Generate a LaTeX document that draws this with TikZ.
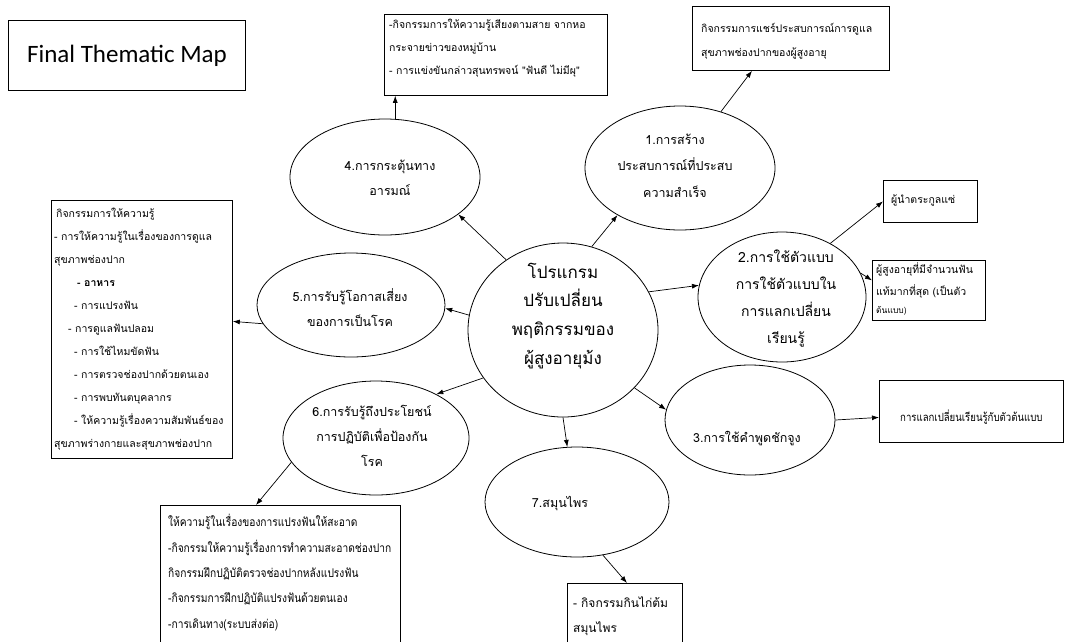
\documentclass[tikz,border=0pt]{standalone}
\usepackage{fontspec}
\setmainfont{Carlito}
\newfontfamily\thai[Script=Thai]{Loma}
\newfontfamily\thain[Script=Thai,FakeStretch=0.85]{Loma}
\usetikzlibrary{shapes.geometric,arrows.meta}
\begin{document}
\begin{tikzpicture}[x=1pt,y=-1pt,
  arr/.style={line width=0.7pt,-{Latex[length=7pt,width=5pt]}},
  oval/.style={ellipse,draw=black,line width=0.8pt,inner sep=0pt},
  box/.style={rectangle,draw=black,line width=0.8pt,inner sep=0pt,anchor=north west},
  sm/.style={inner sep=0pt,anchor=base west,font=\thai\fontsize{10.5}{12}\selectfont},
  md/.style={inner sep=0pt,anchor=base west,font=\thai\fontsize{12}{14}\selectfont},
  mdn/.style={inner sep=0pt,anchor=base west,font=\thain\fontsize{12}{14}\selectfont},
  ov/.style={inner sep=0pt,anchor=base,font=\thai\fontsize{12.5}{14}\selectfont},
  ovb/.style={inner sep=0pt,anchor=base,font=\thai\fontsize{14}{16}\selectfont},
  ctr/.style={inner sep=0pt,anchor=base,font=\thai\fontsize{17}{19}\selectfont}
]
\useasboundingbox (0,0) rectangle (1065,641);

% title
\node[box,minimum width=237pt,minimum height=70pt] (title) at (8,20) {};
\node[font=\fontsize{25}{28}\selectfont,inner sep=0pt] (titletxt) at (127,56) {Final Thematic Map};

% central programme
\node[oval,minimum width=190pt,minimum height=174pt] (c) at (563,330) {};
\foreach \t/\y [count=\i] in {โปรแกรม/278,ปรับเปลี่ยน/306,พฤติกรรมของ/335,ผู้สูงอายุม้ง/364}
  \node[ctr] (ct\i) at (563,\y) {\t};

% 1. experience of success
\node[oval,minimum width=190pt,minimum height=124pt] (e1) at (680,168) {};
\foreach \t/\y [count=\i] in {1.การสร้าง/144,ประสบการณ์ที่ประสบ/170,ความสำเร็จ/197}
  \node[ov] (e1t\i) at (675,\y) {\t};
\node[box,minimum width=197pt,minimum height=64pt] (trb) at (692,6) {};
\node[sm] (trb1) at (701,32) {กิจกรรมการแชร์ประสบการณ์การดูแล};
\node[sm] (trb2) at (701,56) {สุขภาพช่องปากของผู้สูงอายุ};

% 4. emotional arousal
\node[oval,minimum width=190pt,minimum height=116pt] (e4) at (385,177) {};
\node[ov] (e4t1) at (390,170) {4.การกระตุ้นทาง};
\node[ov] (e4t2) at (390,195) {อารมณ์};
\node[box,minimum width=223pt,minimum height=81pt] (tb) at (384,14) {};
\node[sm] (tb1) at (389,28) {-กิจกรรมการให้ความรู้เสียงตามสาย จากหอ};
\node[sm] (tb2) at (389,51) {กระจายข่าวของหมู่บ้าน};
\node[sm] (tb3) at (389,74) {- การแข่งขันกล่าวสุนทรพจน์ "ฟันดี ไม่มีผุ"};

% 5. perceived risk
\node[oval,minimum width=188pt,minimum height=104pt] (e5) at (351,305) {};
\node[ov] (e5t1) at (350,301) {5.การรับรู้โอกาสเสี่ยง};
\node[ov] (e5t2) at (350,326) {ของการเป็นโรค};
\node[box,minimum width=181pt,minimum height=258pt] (lb) at (51,200) {};
\foreach \t/\x/\y [count=\i] in {
  กิจกรรมการให้ความรู้/56/217,
  - การให้ความรู้ในเรื่องของการดูแล/54/240,
  สุขภาพช่องปาก/54/263,
  - การแปรงฟัน/74/309,
  - การดูแลฟันปลอม/68/332,
  - การใช้ไหมขัดฟัน/74/355,
  - การตรวจช่องปากด้วยตนเอง/74/378,
  - การพบทันตบุคลากร/74/401,
  - ให้ความรู้เรื่องความสัมพันธ์ของ/74/424,
  สุขภาพร่างกายและสุขภาพช่องปาก/54/447}
  \node[sm] (lb\i) at (\x,\y) {\t};
\node[sm,font=\thai\bfseries\fontsize{10.5}{12}\selectfont] (lbb) at (77,286) {- อาหาร};

% 2. modelling
\node[oval,minimum width=168pt,minimum height=130pt] (e2) at (782,297) {};
\foreach \t/\y [count=\i] in {2.การใช้ตัวแบบ/262,การใช้ตัวแบบใน/289,การแลกเปลี่ยน/316,เรียนรู้/343}
  \node[ovb] (e2t\i) at (786,\y) {\t};
\node[box,minimum width=94pt,minimum height=42pt] (ba) at (883,180) {};
\node[sm] (ba1) at (891,203) {ผู้นำตระกูลแซ่};
\node[box,minimum width=113pt,minimum height=60pt] (bb) at (872,260) {};
\node[sm] (bb1) at (876,273) {ผู้สูงอายุที่มีจำนวนฟัน};
\node[sm] (bb2) at (876,295) {แท้มากที่สุด (เป็นตัว};
\node[sm,font=\thai\fontsize{8.5}{10}\selectfont] (bb3) at (876,313) {ต้นแบบ)};

% 3. persuasion
\node[oval,minimum width=170pt,minimum height=110pt] (e3) at (750,420) {};
\node[ov] (e3t) at (747,442) {3.การใช้คำพูดชักจูง};
\node[box,minimum width=184pt,minimum height=62pt] (rb) at (879,380) {};
\node[sm,font=\thain\fontsize{11.3}{13}\selectfont] (rb1) at (900,421) {การแลกเปลี่ยนเรียนรู้กับตัวต้นแบบ};

% 6. perceived benefits
\node[oval,minimum width=186pt,minimum height=114pt] (e6) at (376,438) {};
\foreach \t/\y [count=\i] in {6.การรับรู้ถึงประโยชน์/416,การปฏิบัติเพื่อป้องกัน/441,โรค/466}
  \node[ov] (e6t\i) at (372,\y) {\t};
\node[box,minimum width=240pt,minimum height=145pt] (bt) at (160,505) {};
\foreach \t/\y [count=\i] in {
  ให้ความรู้ในเรื่องของการแปรงฟันให้สะอาด/526,
  -กิจกรรมให้ความรู้เรื่องการทำความสะอาดช่องปาก/552,
  กิจกรรมฝึกปฏิบัติตรวจช่องปากหลังแปรงฟัน/577,
  -กิจกรรมการฝึกปฏิบัติแปรงฟันด้วยตนเอง/602,
  -การเดินทาง(ระบบส่งต่อ)/628}
  \node[mdn] (bt\i) at (168,\y) {\t};

% 7. herbs
\node[oval,minimum width=184pt,minimum height=110pt] (e7) at (577,502) {};
\node[ov] (e7t) at (560,507) {7.สมุนไพร};
\node[box,minimum width=115pt,minimum height=70pt] (hb) at (567,583) {};
\node[md] (hb1) at (573,607) {- กิจกรรมกินไก่ต้ม};
\node[md] (hb2) at (573,632) {สมุนไพร};

% connectors from the programme
\draw[arr] (c.71) -- (e1.217);
\draw[arr] (c.129) -- (e4.333);
\draw[arr] (c.171) -- (e5.358);
\draw[arr] (c.211) -- (e6.36);
\draw[arr] (c.270) -- (e7.100);
\draw[arr] (c.321) -- (e3.173);
\draw[arr] (c.24) -- (e2.172);

% connectors to the activity boxes
\draw[arr] (e4.80) -- (e4.80 |- tb.south);
\draw[arr] (e1.54) -- ([xshift=60pt]trb.south west);
\draw[arr] (e5.192) -- ([yshift=8pt]lb.east);
\draw[arr] (e2.48) -- (ba.west);
\draw[arr] (e2.17) -- ([yshift=10pt]bb.west);
\draw[arr] (e3.0) -- ([yshift=-6pt]rb.west);
\draw[arr] (e6.196) -- ([xshift=96pt]bt.north west);
\draw[arr] (e7.296) -- ([xshift=60pt]hb.north west);
\end{tikzpicture}
\end{document}
